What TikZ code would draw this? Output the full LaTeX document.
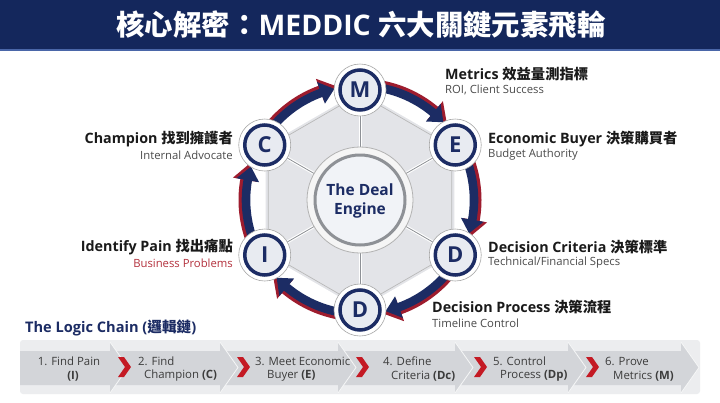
\documentclass[tikz,border=0pt]{standalone}
\usepackage{fontspec}
\setmainfont{Open Sans}
\newfontfamily\cjkf{Noto Sans CJK TC}
\newcommand{\zh}[1]{{\cjkf #1}}
\definecolor{navy}{HTML}{1C2C64}
\definecolor{headbg}{HTML}{14275C}
\definecolor{headline}{HTML}{4A66A8}
\definecolor{arrred}{HTML}{9E1C2E}
\definecolor{nodefill}{HTML}{E8EBF1}
\definecolor{hexfill}{HTML}{E3E4E8}
\definecolor{spoke}{HTML}{8E9196}
\definecolor{subgray}{HTML}{4A4A4A}
\definecolor{txtdark}{HTML}{1A1A1A}
\definecolor{bandgray}{HTML}{ECEDEF}
\definecolor{chaingray}{HTML}{D3D5D9}
\definecolor{chevred}{HTML}{C41A24}
\definecolor{probred}{HTML}{B3303C}
\newcommand\wheelarrow[7]{\fill[#1] ({#3}:{#2+#6}) arc[start angle={#3}, end angle={#4}, radius={#2+#6}] -- ({#4}:{#2+#7}) -- ({#5}:{#2}) -- ({#4}:{#2-#7}) -- ({#4}:{#2-#6}) arc[start angle={#4}, end angle={#3}, radius={#2-#6}] -- cycle;}
\tikzset{
  mnode/.style={circle, draw=navy, line width=3.5pt, fill=nodefill, minimum size=40pt, inner sep=0pt, text=navy, font=\bfseries\fontsize{22}{22}\selectfont},
  lbl/.style={inner sep=0pt, text=txtdark, font=\bfseries\fontsize{14.3}{15}\selectfont},
  sublbl/.style={inner sep=0pt, text=subgray, font=\fontsize{11.3}{13}\selectfont},
  chaintxt/.style={inner sep=0pt, text=txtdark!85, font=\fontsize{11.4}{13}\selectfont},
  chainbody/.style={fill=chaingray},
}
\begin{document}
\begin{tikzpicture}[x=1pt,y=-1pt]
\useasboundingbox (0,0) rectangle (720,402);
\fill[white] (0,0) rectangle (720,402);
% header
\fill[headbg] (0,0) rectangle (720,49);
\fill[headline] (0,49) rectangle (720,51);
\node[text=white, font=\bfseries\fontsize{28.4}{30}\selectfont, inner sep=0pt] (title) at (361,25) {\zh{核心解密：}MEDDIC \zh{六大關鍵元素飛輪}};
% wheel
\begin{scope}[shift={(360,200)}, yscale=-1]
  \fill[hexfill, draw=white, line width=2pt] (90:110) -- (30:110) -- (-30:110) -- (-90:110) -- (-150:110) -- (150:110) -- cycle;
  \draw[gray!55, line width=0.7pt] (90:106) -- (30:106) -- (-30:106) -- (-90:106) -- (-150:106) -- (150:106) -- cycle;
  \foreach \a in {90,30,-30,-90,-150,150} {
    \draw[white, line width=3pt] (\a:50) -- (\a:110);
    \draw[spoke, line width=0.8pt] (\a:50) -- (\a:110);
  }
  \filldraw[fill=gray!8, draw=gray!60, line width=0.8pt] (0,0) circle[radius=53];
  \filldraw[fill=nodefill!60, draw=spoke, line width=3pt] (0,0) circle[radius=45];
  \node[text=navy, font=\bfseries\fontsize{15.5}{19}\selectfont, align=center, inner sep=0pt] (engine) at (0,-0.5) {The Deal\\Engine};
  % arrows
  \foreach \n in {90,30,-30,-90,-150,150} {
    \wheelarrow{arrred}{116.5}{\n-8}{\n-40}{\n-48}{5}{12.5}
    \wheelarrow{navy}{114}{\n-8}{\n-40}{\n-47}{4.3}{11.5}
  }
  % halos
  \foreach \a in {90,30,-30,-90,-150,150} {
    \filldraw[fill=white, draw=gray!70, line width=0.6pt] (\a:110) circle[radius=26];
  }
  \node[mnode] (nM) at (90:110) {M};
  \node[mnode] (nE) at (30:110) {E};
  \node[mnode] (nD1) at (-30:110) {D};
  \node[mnode] (nD2) at (-90:110) {D};
  \node[mnode] (nI) at (-150:110) {I};
  \node[mnode] (nC) at (150:110) {C};
\end{scope}
% labels
\node[lbl, anchor=west] (tM) at (445,74) {Metrics \zh{效益量測指標}};
\node[sublbl, anchor=west] (sM) at (445,90) {ROI, Client Success};
\node[lbl, anchor=west] (tE) at (488,139) {Economic Buyer \zh{決策購買者}};
\node[sublbl, anchor=west] (sE) at (488,155) {Budget Authority};
\node[lbl, anchor=west] (tD1) at (488,247) {Decision Criteria \zh{決策標準}};
\node[sublbl, anchor=west] (sD1) at (488,263) {Technical/Financial Specs};
\node[lbl, anchor=west] (tD2) at (432,307) {Decision Process \zh{決策流程}};
\node[sublbl, anchor=west] (sD2) at (432,323) {Timeline Control};
\node[lbl, anchor=east] (tC) at (233,139) {Champion \zh{找到擁護者}};
\node[sublbl, anchor=east] (sC) at (233,155) {Internal Advocate};
\node[lbl, anchor=east] (tI) at (233,247) {Identify Pain \zh{找出痛點}};
\node[sublbl, anchor=east, text=probred] (sI) at (233,263) {Business Problems};
% logic chain
\node[anchor=west, inner sep=0pt, text=navy, font=\bfseries\fontsize{14.6}{16}\selectfont] (chainttl) at (25,328) {The Logic Chain (\zh{邏輯鏈})};
\fill[bandgray, rounded corners=3pt] (20,340) rectangle (700,394);
\foreach \s/\t in {568/699, 455/586, 338/473, 220/356, 110/238, 20/128} {
  \fill[chainbody] (\s,351) -- (\t-18,351) -- (\t-18,342) -- (\t,367.5) -- (\t-18,393) -- (\t-18,385) -- (\s,385) -- cycle;
  \draw[white!80!chaingray, line width=0.8pt] (\t-18,342) -- (\t,367.5) -- (\t-18,393);
}
\foreach \c in {124,243,362,480,592} {
  \fill[chevred] (\c-6,357) -- (\c,357) -- (\c+7,367) -- (\c,377) -- (\c-6,377) -- (\c+1,367) -- cycle;
}
\node[chaintxt] (c1a) at (69,361) {1. Find Pain};
\node[chaintxt] (c1b) at (73,376) {\textbf{(I)}};
\node[chaintxt, anchor=west] (c2a) at (138,361) {2. Find};
\node[chaintxt, anchor=west] (c2b) at (144,376) {Champion \textbf{(C)}};
\node[chaintxt, anchor=west] (c3a) at (255,361) {3. Meet Economic};
\node[chaintxt, anchor=west] (c3b) at (267,376) {Buyer \textbf{(E)}};
\node[chaintxt, anchor=west] (c4a) at (383,361) {4. Define};
\node[chaintxt, anchor=west] (c4b) at (391,376) {Criteria \textbf{(Dc)}};
\node[chaintxt, anchor=west] (c5a) at (493,361) {5. Control};
\node[chaintxt, anchor=west] (c5b) at (500,376) {Process \textbf{(Dp)}};
\node[chaintxt, anchor=west] (c6a) at (605,361) {6. Prove};
\node[chaintxt, anchor=west] (c6b) at (613,376) {Metrics \textbf{(M)}};
\end{tikzpicture}
\end{document}
